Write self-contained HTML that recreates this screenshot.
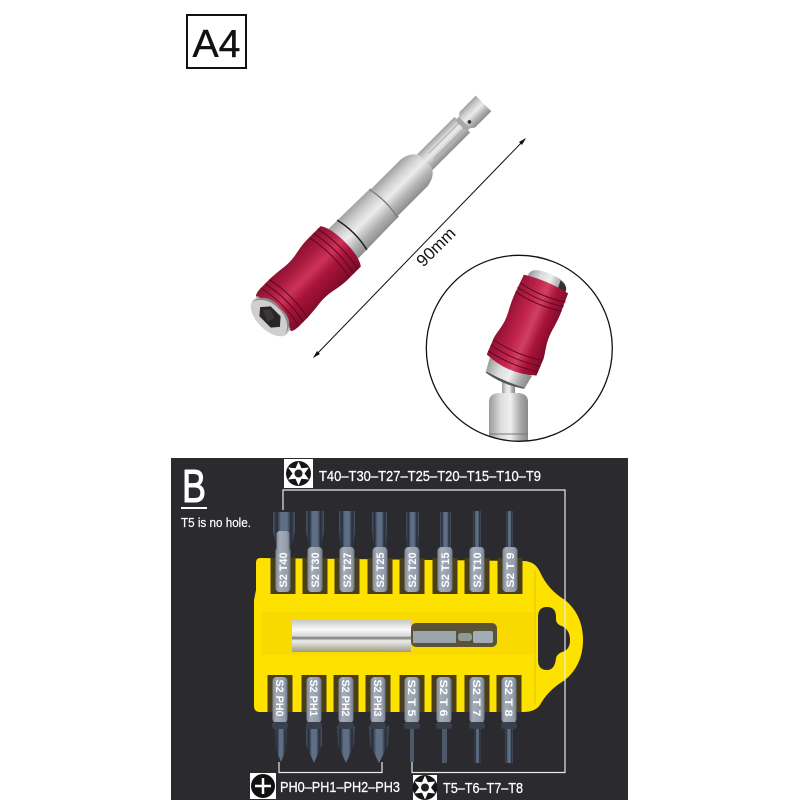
<!DOCTYPE html>
<html><head><meta charset="utf-8"><style>html,body{margin:0;padding:0;background:#fff}svg{display:block}</style></head><body>
<svg width="800" height="800" viewBox="0 0 800 800" xmlns="http://www.w3.org/2000/svg" font-family="'Liberation Sans',sans-serif">
<defs>
<linearGradient id="red" x1="0" y1="0" x2="0" y2="1"><stop offset="0" stop-color="#8a1030"/><stop offset=".25" stop-color="#ae1c42"/><stop offset=".45" stop-color="#cc3358"/><stop offset=".65" stop-color="#a81439"/><stop offset="1" stop-color="#7e0a2a"/></linearGradient>
<linearGradient id="redh" x1="0" y1="0" x2="1" y2="0"><stop offset="0" stop-color="#921034"/><stop offset=".35" stop-color="#c0234a"/><stop offset=".55" stop-color="#d04062"/><stop offset=".75" stop-color="#a81238"/><stop offset="1" stop-color="#7e0a2a"/></linearGradient>
<linearGradient id="sil" x1="0" y1="0" x2="0" y2="1"><stop offset="0" stop-color="#a0a0a0"/><stop offset=".25" stop-color="#cfcfcf"/><stop offset=".48" stop-color="#ececec"/><stop offset=".75" stop-color="#b4b4b4"/><stop offset="1" stop-color="#8c8c8c"/></linearGradient>
<linearGradient id="silh" x1="0" y1="0" x2="1" y2="0"><stop offset="0" stop-color="#999"/><stop offset=".3" stop-color="#dcdcdc"/><stop offset=".55" stop-color="#efefef"/><stop offset=".8" stop-color="#aaa"/><stop offset="1" stop-color="#888"/></linearGradient>
<linearGradient id="sleeve" x1="0" y1="0" x2="0" y2="1"><stop offset="0" stop-color="#c8c8c4"/><stop offset=".3" stop-color="#fafafa"/><stop offset=".5" stop-color="#d8d8d8"/><stop offset=".56" stop-color="#777"/><stop offset=".65" stop-color="#eee"/><stop offset="1" stop-color="#a09c80"/></linearGradient>
<linearGradient id="bit" x1="0" y1="0" x2="1" y2="0"><stop offset="0" stop-color="#7d8693"/><stop offset=".25" stop-color="#a4acb8"/><stop offset=".8" stop-color="#949dab"/><stop offset="1" stop-color="#6e7682"/></linearGradient>
<linearGradient id="tip" x1="0" y1="0" x2="1" y2="0"><stop offset="0" stop-color="#4a5464"/><stop offset=".18" stop-color="#262c38"/><stop offset=".36" stop-color="#5e6e84"/><stop offset=".64" stop-color="#5e6e84"/><stop offset=".82" stop-color="#262c38"/><stop offset="1" stop-color="#4a5464"/></linearGradient>
<clipPath id="cc"><circle cx="519.3" cy="348.3" r="93"/></clipPath>
<g id="star"><circle r="12.500" fill="#151515"/><polygon points="0,-12 3,-5.2 10.4,-6 6,0 10.4,6 3,5.200 0,12 -3,5.200 -10.4,6 -6,0 -10.4,-6 -3,-5.200" fill="#fff"/><circle r="4" fill="#222"/></g>
<g id="tb"><rect x="-12.5" y="558" width="25" height="36" fill="#4a3f18"/><rect x="-7.500" y="547" width="15" height="45" rx="4" fill="url(#bit)"/></g>
<g id="bb"><rect x="-12.5" y="675" width="25" height="37" fill="#4a3f18"/><rect x="-7.500" y="677" width="15" height="46" rx="4" fill="url(#bit)"/><rect x="-8" y="722" width="16" height="7" rx="3" fill="#39404c"/></g>
</defs>

<!-- A4 label -->
<rect x="187" y="15" width="59" height="53" fill="#fff" stroke="#111" stroke-width="2"/>
<text x="216.500" y="57" font-size="39" text-anchor="middle" fill="#111" stroke="#111" stroke-width=".4" textLength="48" lengthAdjust="spacingAndGlyphs">A4</text>

<!-- main tool -->
<g transform="translate(270,317) rotate(-45)">
<path d="M213 -11 L272 -11 L272 11 L213 11Z" fill="url(#sil)"/>
<path d="M270 -8 L279 -8 L279 8 L270 8Z" fill="#a8a8a8"/>
<path d="M275 -8 L279 -11 L302 -11 L302 11 L279 11 L275 8Z" fill="url(#sil)"/>
<line x1="228" y1="-3.500" x2="272" y2="-3.500" stroke="#999" stroke-width=".6"/>
<line x1="228" y1="4" x2="272" y2="4" stroke="#999" stroke-width=".6"/>
<circle cx="279" cy="3" r="1.800" fill="#333"/>
<path d="M160 -19 L204 -19 Q216 -17 220 -9 L220 9 Q216 17 204 19 L160 19Z" fill="url(#sil)"/>
<path d="M103 -21 L162 -20 Q165 0 162 20 L103 21Z" fill="url(#sil)"/>
<path d="M160.500 -20 Q165 0 160.500 20" fill="none" stroke="#777" stroke-width="1.300"/>
<path d="M116 -21 Q121 0 116 21" fill="none" stroke="#222" stroke-width="1.500"/>
<path d="M5 -25 Q8 -27 14 -27 L26 -27 C40 -26.500 44 -25 52 -25 C62 -25 68 -28 80 -28.500 L100 -28.500 Q106 -20 106 0 Q106 20 100 28.500 L80 28.500 C68 28 62 25 52 25 C44 25 40 26.500 26 27 L14 27 Q8 27 5 25Z" fill="url(#red)"/>
<g fill="none" stroke="#5c0820" stroke-width="1">
<path d="M84 -28 Q90 0 84 28"/><path d="M90 -28.500 Q96 0 90 28.500"/><path d="M96 -28.500 Q102 0 96 28.500"/>
<path d="M14 -27 Q20 0 14 27"/><path d="M20 -27 Q26 0 20 27"/><path d="M26 -27 Q32 0 26 27"/>
</g>
<path d="M0 -23.500 L6 -23.500 Q12 0 6 23.500 L0 23.500Z" fill="#9a9a9a"/>
<ellipse cx="0" cy="0" rx="13" ry="24" fill="#cfcfcf"/>
<path d="M-2 -23.500 Q12 -18 12 0 Q12 18 -2 23.500 Q16 20 13.500 0 Q16 -20 -2 -23.500Z" fill="#8a8a8a"/>
<polygon points="-7,-8 0,-14 8,-7 8,7 0,14 -7,8" fill="#2a2526"/>
<polygon points="0,-10 6,-5 2,4 -5,1" fill="#3b3637"/>
</g>

<!-- dimension -->
<g stroke="#111" fill="#111">
<line x1="525" y1="139" x2="314" y2="357" stroke-width="1"/>
<polygon points="526,138 519,142 522,145" stroke="none"/>
<polygon points="313,358 320,354 317,351" stroke="none"/>
</g>
<text x="440" y="251" font-size="17" text-anchor="middle" fill="#111" transform="rotate(-45 440 251)">90mm</text>

<!-- inset -->
<g clip-path="url(#cc)">
<rect x="502" y="376" width="13" height="22" fill="url(#silh)"/>
<path d="M489 402 Q489 394 498 393 L519 393 Q528 394 528 402 L528 445 L489 445Z" fill="url(#silh)"/>
<line x1="489" y1="434" x2="528" y2="434" stroke="#777" stroke-width="1"/>
<g transform="translate(546,284) rotate(23)">
<path d="M-20 -2 Q-20 -11 0 -11 Q20 -11 20 -2 L20 4 L-20 4Z" fill="url(#silh)"/>
<path d="M12 -9 Q20 -7 21 -2 L21 3 L13 3Z" fill="#333"/>
<path d="M-23 90 L23 90 L21 105 Q0 110 -21 105Z" fill="url(#silh)"/>
<path d="M-21 105 Q0 110 21 105 L20 104 Q0 106 -20 104Z" fill="#555"/>
<path d="M-24 0 Q0 -4 24 0 L25 22 C25 34 23.500 40 23.500 47 C23.500 56 26 62 27 70 L27 88 Q0 98 -27 88 L-27 70 C-26 62 -23.500 56 -23.500 47 C-23.500 40 -25 34 -25 22Z" fill="url(#redh)"/>
<g fill="none" stroke="#5c0820" stroke-width="1">
<path d="M-24 9 Q0 14 25 9"/><path d="M-25 14 Q0 19 25 14"/><path d="M-25 19 Q0 24 25 19"/>
<path d="M-26 72 Q0 77 26 72"/><path d="M-27 78 Q0 83 27 78"/><path d="M-27 84 Q0 89 27 84"/>
</g>
</g>
</g>
<circle cx="519.3" cy="348.3" r="93" fill="none" stroke="#111" stroke-width="1.300"/>

<!-- panel -->
<rect x="171" y="458" width="457" height="342" fill="#2b2a2e"/>
<text x="182" y="502" font-size="46" fill="#fff" stroke="#fff" stroke-width="1" textLength="24" lengthAdjust="spacingAndGlyphs">B</text>
<rect x="181" y="507" width="26" height="2" fill="#fff"/>
<text x="181" y="527" font-size="13" fill="#fff" stroke="#fff" stroke-width=".2" textLength="70" lengthAdjust="spacingAndGlyphs">T5 is no hole.</text>

<!-- holder -->
<path d="M260 558 Q256 558 256 563 L256 590 L254 600 L254 706 Q254 712 260 712 L523 712 Q535 712 540 705 Q548 690 565 680 Q583 665 583 640 Q583 615 565 600 Q548 590 540 572 Q535 561 523 561Z" fill="#fde200"/>
<rect x="262" y="612" width="272" height="43" fill="#f8da00"/>
<rect x="534" y="570" width="2" height="135" fill="#f0d200"/>
<path d="M538 617 Q538 607 547 607 Q556 607 556 617 L556 620 Q557 625 562 626 Q570 630 570 640 Q570 650 562 652 Q557 654 556 658 Q555 670 547 670 Q538 670 538 660Z" fill="#2b2a2e"/>

<!-- sleeve + hex bit -->
<rect x="292" y="620" width="119" height="32" fill="url(#sleeve)"/>
<rect x="411" y="623" width="86" height="24" rx="5" fill="#5a5338"/>
<rect x="413" y="631" width="43" height="12" fill="#9aa4ac"/>
<rect x="458" y="633" width="14" height="8" rx="3" fill="#8d9a96"/>
<rect x="473" y="631" width="20" height="12" rx="2" fill="#a2acb4"/>

<!-- top bits -->
<g>
<polygon points="273,512 295,512 295,532 291,548 277,548 273,532" fill="url(#tip)"/>
<polygon points="306,511 324,511 324,532 321,548 309,548 306,532" fill="url(#tip)"/>
<polygon points="339,511 355,511 355,532 353,548 341,548 339,532" fill="url(#tip)"/>
<polygon points="372,512 387,512 387,532 386,548 374,548 372,532" fill="url(#tip)"/>
<polygon points="406,512 419,512 419,532 418,548 407,548 406,532" fill="url(#tip)"/>
<polygon points="440,512 451,512 451,532 451,548 440,548 440,532" fill="url(#tip)"/>
<polygon points="473,511 481,511 481,548 473,548" fill="url(#tip)"/>
<polygon points="506,511 513,511 513,548 506,548" fill="url(#tip)"/>
</g>
<use href="#tb" x="283"/><use href="#tb" x="315"/><use href="#tb" x="347"/><use href="#tb" x="380"/><use href="#tb" x="412"/><use href="#tb" x="445"/><use href="#tb" x="477"/><use href="#tb" x="510"/>
<rect x="276.500" y="531" width="13" height="22" rx="3" fill="url(#bit)"/>
<g font-size="11" font-weight="bold" fill="#fff" text-anchor="middle">
<text transform="translate(287,570) rotate(-90)" textLength="35" lengthAdjust="spacingAndGlyphs">S2 T40</text>
<text transform="translate(319,570) rotate(-90)" textLength="35" lengthAdjust="spacingAndGlyphs">S2 T30</text>
<text transform="translate(351,570) rotate(-90)" textLength="35" lengthAdjust="spacingAndGlyphs">S2 T27</text>
<text transform="translate(384,570) rotate(-90)" textLength="35" lengthAdjust="spacingAndGlyphs">S2 T25</text>
<text transform="translate(416,570) rotate(-90)" textLength="35" lengthAdjust="spacingAndGlyphs">S2 T20</text>
<text transform="translate(449,570) rotate(-90)" textLength="35" lengthAdjust="spacingAndGlyphs">S2 T15</text>
<text transform="translate(481,570) rotate(-90)" textLength="35" lengthAdjust="spacingAndGlyphs">S2 T10</text>
<text transform="translate(514,570) rotate(-90)" textLength="35" lengthAdjust="spacingAndGlyphs">S2 T 9</text>
</g>

<!-- bottom bits -->
<g>
<polygon points="275,726 287,726 286,750 281,762 276,750" fill="url(#tip)"/>
<polygon points="306,726 322,726 322,745 314,763 306,745" fill="url(#tip)"/>
<polygon points="337,726 355,726 354,745 346,763 338,745" fill="url(#tip)"/>
<polygon points="369,726 389,726 388,745 379,763 370,745" fill="url(#tip)"/>
<rect x="410" y="726" width="4" height="36" fill="#4d5868"/>
<rect x="442" y="726" width="5" height="37" fill="#4d5868"/>
<rect x="474.500" y="726" width="6" height="37" fill="url(#tip)"/>
<rect x="505" y="726" width="8" height="37" fill="url(#tip)"/>
</g>
<use href="#bb" x="280"/><use href="#bb" x="314"/><use href="#bb" x="346"/><use href="#bb" x="378"/><use href="#bb" x="412"/><use href="#bb" x="444"/><use href="#bb" x="477"/><use href="#bb" x="509"/>
<g font-size="11" font-weight="bold" fill="#fff" text-anchor="middle">
<text transform="translate(276,698) rotate(90)" textLength="37" lengthAdjust="spacingAndGlyphs">S2 PH0</text>
<text transform="translate(310,698) rotate(90)" textLength="37" lengthAdjust="spacingAndGlyphs">S2 PH1</text>
<text transform="translate(342,698) rotate(90)" textLength="37" lengthAdjust="spacingAndGlyphs">S2 PH2</text>
<text transform="translate(374,698) rotate(90)" textLength="37" lengthAdjust="spacingAndGlyphs">S2 PH3</text>
<text transform="translate(408,698) rotate(90)" textLength="37" lengthAdjust="spacingAndGlyphs">S2 T 5</text>
<text transform="translate(440,698) rotate(90)" textLength="37" lengthAdjust="spacingAndGlyphs">S2 T 6</text>
<text transform="translate(473,698) rotate(90)" textLength="37" lengthAdjust="spacingAndGlyphs">S2 T 7</text>
<text transform="translate(505,698) rotate(90)" textLength="37" lengthAdjust="spacingAndGlyphs">S2 T 8</text>
</g>

<!-- leader lines -->
<g fill="none" stroke="#e8e8e8" stroke-width="1.200">
<path d="M283 510 L283 490 L565 490 L565 772.500 L412 772.500 L412 762"/>
<path d="M279 762 L279 772.500 L382 772.500 L382 762"/>
</g>

<!-- labels -->
<rect x="284" y="459" width="29" height="29" fill="#fff"/>
<use href="#star" x="298.500" y="473.500"/>
<text x="319" y="481" font-size="15" fill="#fff" stroke="#fff" stroke-width=".25" textLength="222" lengthAdjust="spacingAndGlyphs">T40–T30–T27–T25–T20–T15–T10–T9</text>

<rect x="250" y="773" width="26" height="26" fill="#fff"/>
<circle cx="263" cy="786" r="12" fill="#111"/>
<path d="M263 778 V794 M255 786 H271" stroke="#fff" stroke-width="2.500"/>
<text x="280" y="792" font-size="15" fill="#fff" stroke="#fff" stroke-width=".25" textLength="120" lengthAdjust="spacingAndGlyphs">PH0–PH1–PH2–PH3</text>

<rect x="413" y="775" width="24" height="25" fill="#fff"/>
<use href="#star" x="425" y="787.500"/>
<text x="443" y="793" font-size="15" fill="#fff" stroke="#fff" stroke-width=".25" textLength="80" lengthAdjust="spacingAndGlyphs">T5–T6–T7–T8</text>
</svg>
</body></html>
